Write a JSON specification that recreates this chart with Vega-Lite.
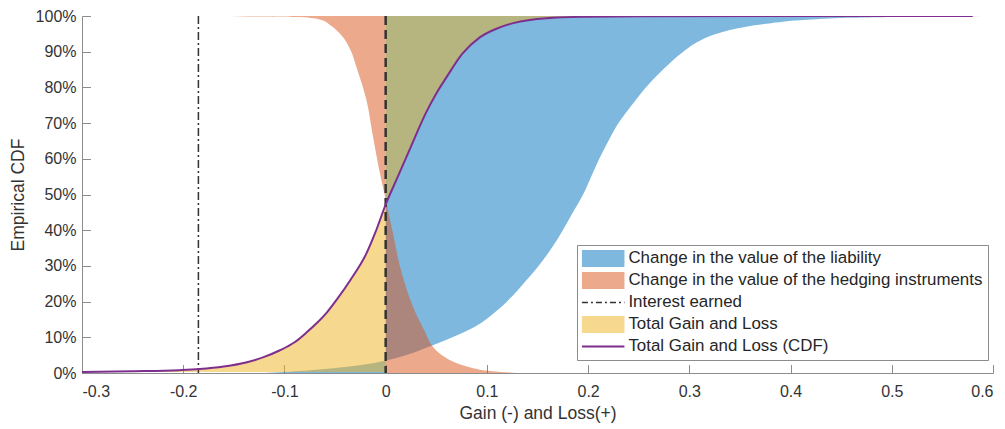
{
  "$schema": "https://vega.github.io/schema/vega-lite/v6.json",
  "width": 911,
  "height": 357,
  "autosize": {"type": "none"},
  "padding": {"left": 82, "top": 16, "right": 12, "bottom": 56},
  "background": "white",
  "config": {
    "view": {"stroke": null},
    "font": "Liberation Sans",
    "axis": {
      "grid": false,
      "domainColor": "#8c8c8c",
      "tickColor": "#8c8c8c",
      "tickSize": -8.5,
      "labelFontSize": 16,
      "labelColor": "#333333",
      "titleFontSize": 17.5,
      "titleFontWeight": "normal",
      "titleColor": "#333333",
      "labelFont": "Liberation Sans",
      "titleFont": "Liberation Sans"
    }
  },
  "datasets": {
    "liab": [
      {"series": "Change in the value of the liability", "p": 0.0, "v": -0.12},
      {"series": "Change in the value of the liability", "p": 0.003, "v": -0.1},
      {"series": "Change in the value of the liability", "p": 0.01, "v": -0.065},
      {"series": "Change in the value of the liability", "p": 0.017, "v": -0.04},
      {"series": "Change in the value of the liability", "p": 0.025, "v": -0.018},
      {"series": "Change in the value of the liability", "p": 0.035, "v": 0.0},
      {"series": "Change in the value of the liability", "p": 0.05, "v": 0.02},
      {"series": "Change in the value of the liability", "p": 0.075, "v": 0.044},
      {"series": "Change in the value of the liability", "p": 0.1, "v": 0.066},
      {"series": "Change in the value of the liability", "p": 0.131, "v": 0.089},
      {"series": "Change in the value of the liability", "p": 0.17, "v": 0.108},
      {"series": "Change in the value of the liability", "p": 0.215, "v": 0.125},
      {"series": "Change in the value of the liability", "p": 0.26, "v": 0.139},
      {"series": "Change in the value of the liability", "p": 0.3, "v": 0.151},
      {"series": "Change in the value of the liability", "p": 0.35, "v": 0.164},
      {"series": "Change in the value of the liability", "p": 0.4, "v": 0.175},
      {"series": "Change in the value of the liability", "p": 0.45, "v": 0.185},
      {"series": "Change in the value of the liability", "p": 0.5, "v": 0.195},
      {"series": "Change in the value of the liability", "p": 0.55, "v": 0.203},
      {"series": "Change in the value of the liability", "p": 0.6, "v": 0.211},
      {"series": "Change in the value of the liability", "p": 0.65, "v": 0.22},
      {"series": "Change in the value of the liability", "p": 0.7, "v": 0.23},
      {"series": "Change in the value of the liability", "p": 0.75, "v": 0.243},
      {"series": "Change in the value of the liability", "p": 0.8, "v": 0.257},
      {"series": "Change in the value of the liability", "p": 0.85, "v": 0.274},
      {"series": "Change in the value of the liability", "p": 0.9, "v": 0.294},
      {"series": "Change in the value of the liability", "p": 0.93, "v": 0.31},
      {"series": "Change in the value of the liability", "p": 0.95, "v": 0.327},
      {"series": "Change in the value of the liability", "p": 0.97, "v": 0.356},
      {"series": "Change in the value of the liability", "p": 0.98, "v": 0.381},
      {"series": "Change in the value of the liability", "p": 0.99, "v": 0.42},
      {"series": "Change in the value of the liability", "p": 0.995, "v": 0.46},
      {"series": "Change in the value of the liability", "p": 0.998, "v": 0.52},
      {"series": "Change in the value of the liability", "p": 1.0, "v": 0.6}
    ],
    "hedge": [
      {"series": "Change in the value of the hedging instruments", "p": 0.0, "v": 0.13},
      {"series": "Change in the value of the hedging instruments", "p": 0.005, "v": 0.105},
      {"series": "Change in the value of the hedging instruments", "p": 0.01, "v": 0.092},
      {"series": "Change in the value of the hedging instruments", "p": 0.02, "v": 0.078},
      {"series": "Change in the value of the hedging instruments", "p": 0.04, "v": 0.061},
      {"series": "Change in the value of the hedging instruments", "p": 0.06, "v": 0.051},
      {"series": "Change in the value of the hedging instruments", "p": 0.08, "v": 0.045},
      {"series": "Change in the value of the hedging instruments", "p": 0.115, "v": 0.039},
      {"series": "Change in the value of the hedging instruments", "p": 0.16, "v": 0.031},
      {"series": "Change in the value of the hedging instruments", "p": 0.207, "v": 0.024},
      {"series": "Change in the value of the hedging instruments", "p": 0.26, "v": 0.018},
      {"series": "Change in the value of the hedging instruments", "p": 0.3, "v": 0.014},
      {"series": "Change in the value of the hedging instruments", "p": 0.394, "v": 0.007},
      {"series": "Change in the value of the hedging instruments", "p": 0.486, "v": 0.0},
      {"series": "Change in the value of the hedging instruments", "p": 0.578, "v": -0.007},
      {"series": "Change in the value of the hedging instruments", "p": 0.67, "v": -0.013},
      {"series": "Change in the value of the hedging instruments", "p": 0.765, "v": -0.019},
      {"series": "Change in the value of the hedging instruments", "p": 0.858, "v": -0.029},
      {"series": "Change in the value of the hedging instruments", "p": 0.9, "v": -0.034},
      {"series": "Change in the value of the hedging instruments", "p": 0.95, "v": -0.045},
      {"series": "Change in the value of the hedging instruments", "p": 0.975, "v": -0.055},
      {"series": "Change in the value of the hedging instruments", "p": 0.99, "v": -0.065},
      {"series": "Change in the value of the hedging instruments", "p": 0.997, "v": -0.085},
      {"series": "Change in the value of the hedging instruments", "p": 1.0, "v": -0.2}
    ],
    "cdf": [
      {"p": 0.003, "v": -0.3},
      {"p": 0.005, "v": -0.25},
      {"p": 0.008, "v": -0.204},
      {"p": 0.011, "v": -0.184},
      {"p": 0.018, "v": -0.16},
      {"p": 0.03, "v": -0.137},
      {"p": 0.045, "v": -0.12},
      {"p": 0.063, "v": -0.105},
      {"p": 0.086, "v": -0.09},
      {"p": 0.114, "v": -0.078},
      {"p": 0.14, "v": -0.068},
      {"p": 0.17, "v": -0.058},
      {"p": 0.207, "v": -0.048},
      {"p": 0.26, "v": -0.035},
      {"p": 0.335, "v": -0.019},
      {"p": 0.395, "v": -0.01},
      {"p": 0.472, "v": 0.0},
      {"p": 0.55, "v": 0.012},
      {"p": 0.628, "v": 0.024},
      {"p": 0.73, "v": 0.04},
      {"p": 0.783, "v": 0.05},
      {"p": 0.828, "v": 0.06},
      {"p": 0.895, "v": 0.076},
      {"p": 0.94, "v": 0.093},
      {"p": 0.965, "v": 0.11},
      {"p": 0.98, "v": 0.126},
      {"p": 0.994, "v": 0.159},
      {"p": 0.998, "v": 0.2},
      {"p": 0.9995, "v": 0.25},
      {"p": 1.0, "v": 0.58}
    ],
    "interest": [{"series": "Interest earned", "v": -0.185}],
    "zero": [{"v": 0}]
  },
  "encoding": {
    "y": {
      "field": "p", "type": "quantitative",
      "scale": {"domain": [0, 1], "nice": false},
      "axis": {
        "values": [0, 0.1, 0.2, 0.3, 0.4, 0.5, 0.6, 0.7, 0.8, 0.9, 1.0],
        "format": ".0%",
        "title": "Empirical CDF",
        "labelPadding": 14.5,
        "titlePadding": 8
      }
    },
    "x": {
      "field": "v", "type": "quantitative",
      "scale": {"domain": [-0.3, 0.6], "nice": false},
      "axis": {
        "values": [-0.3, -0.2, -0.1, 0, 0.1, 0.2, 0.3, 0.4, 0.5, 0.6],
        "labelExpr": "datum.value < 0 ? '-' + format(-datum.value, '.1~f') : format(datum.value, '.1~f')",
        "title": "Gain (-) and Loss(+)",
        "labelPadding": 18.5,
        "titlePadding": 5
      }
    }
  },
  "layer": [
    {
      "data": {"name": "liab"},
      "mark": {"type": "area", "orient": "horizontal", "interpolate": "monotone", "fillOpacity": 0.5, "clip": true},
      "encoding": {
        "x2": {"datum": 0},
        "color": {
          "field": "series", "type": "nominal",
          "scale": {
            "domain": ["Change in the value of the liability", "Change in the value of the hedging instruments", "Interest earned", "Total Gain and Loss", "Total Gain and Loss (CDF)"],
            "range": ["#0072BD", "#D95319", "#333333", "#EDB120", "#7E2F8E"]
          },
          "legend": {
            "title": null,
            "orient": "none",
            "legendX": 495,
            "legendY": 229,
            "padding": 5,
            "rowPadding": 4,
            "fillColor": "white",
            "strokeColor": "#8c8c8c",
            "labelFontSize": 16.9,
            "labelColor": "#262626",
            "labelFont": "Liberation Sans",
            "labelLimit": 500,
            "labelOffset": 29.5,
            "symbolSize": 289,
            "symbolType": "M-1,-1H4V1H-1Z",
            "encode": {
              "symbols": {
                "update": {
                  "shape": {"signal": "(datum.label == 'Interest earned' || datum.label == 'Total Gain and Loss (CDF)') ? 'M-1,0H4' : 'M-1,-1H4V1H-1Z'"},
                  "fill": {"signal": "(datum.label == 'Interest earned' || datum.label == 'Total Gain and Loss (CDF)') ? 'transparent' : scale('color', datum.value)"},
                  "fillOpacity": {"value": 0.5},
                  "stroke": {"signal": "datum.label == 'Interest earned' ? '#333333' : (datum.label == 'Total Gain and Loss (CDF)' ? '#7E2F8E' : 'transparent')"},
                  "strokeWidth": {"signal": "datum.label == 'Interest earned' ? 1.5 : (datum.label == 'Total Gain and Loss (CDF)' ? 2 : 0)"},
                  "strokeDash": {"signal": "datum.label == 'Interest earned' ? [6, 3, 2, 3] : [1, 0]"},
                  "opacity": {"value": 1},
                  "size": {"value": 289}
                }
              }
            }
          }
        }
      }
    },
    {
      "data": {"name": "hedge"},
      "mark": {"type": "area", "orient": "horizontal", "interpolate": "monotone", "fillOpacity": 0.5, "clip": true},
      "encoding": {
        "x2": {"datum": 0},
        "color": {"field": "series", "type": "nominal"}
      }
    },
    {
      "data": {"name": "cdf"},
      "mark": {"type": "area", "orient": "horizontal", "interpolate": "monotone", "fillOpacity": 0.5, "clip": true},
      "encoding": {
        "x2": {"datum": 0},
        "color": {"datum": "Total Gain and Loss"}
      }
    },
    {
      "data": {"name": "interest"},
      "mark": {"type": "rule", "strokeWidth": 1.5, "strokeDash": [8, 3, 2, 3]},
      "encoding": {
        "y": null,
        "color": {"field": "series", "type": "nominal"}
      }
    },
    {
      "data": {"name": "zero"},
      "mark": {"type": "rule", "strokeWidth": 2.5, "strokeDash": [9, 5], "color": "#333333"},
      "encoding": {"y": null}
    },
    {
      "data": {"name": "cdf"},
      "mark": {"type": "line", "strokeWidth": 2, "interpolate": "monotone", "clip": true},
      "encoding": {
        "color": {"datum": "Total Gain and Loss (CDF)"},
        "order": {"field": "p", "type": "quantitative"}
      }
    }
  ]
}
